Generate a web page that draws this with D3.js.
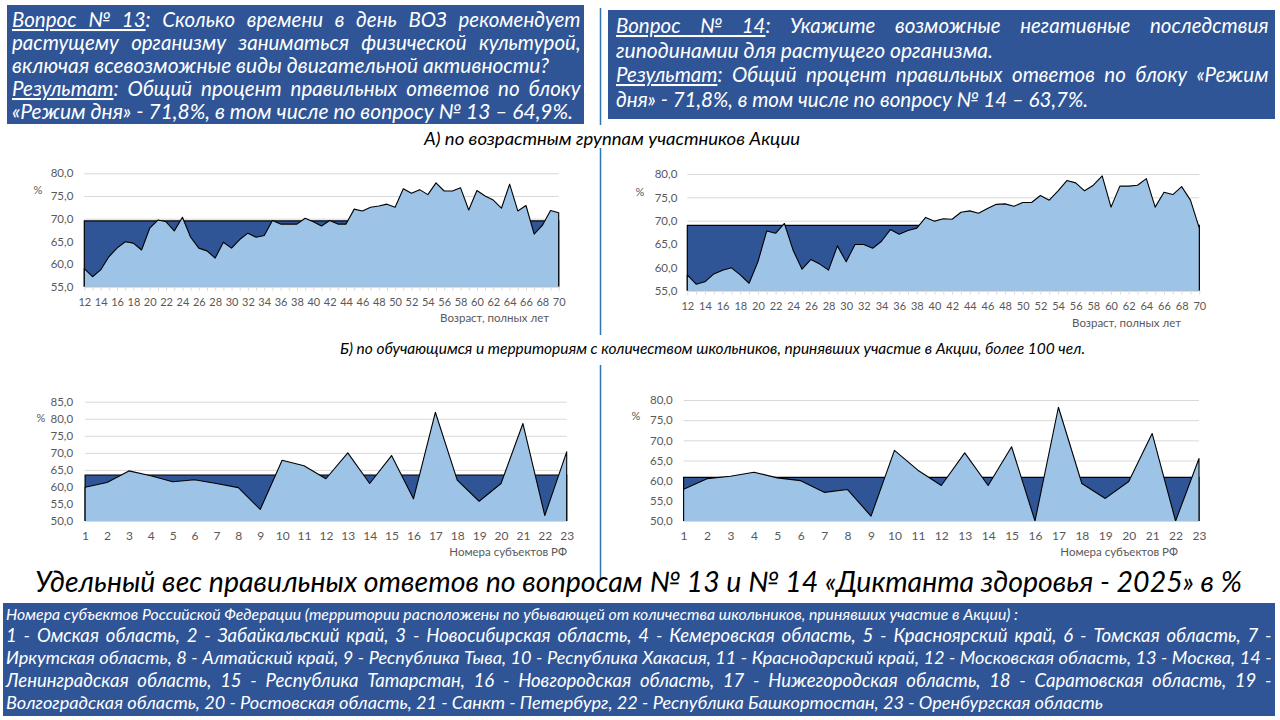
<!DOCTYPE html>
<html>
<head>
<meta charset="utf-8">
<title>Диктант здоровья - 2025: вопросы № 13 и № 14</title>
<script src="https://d3js.org/d3.v7.min.js"></script>
<style>
    body {
        margin: 0;
        background: #fff;
    }
    svg {
        display: block;
        font-family: Lato, "Open Sans", sans-serif;
    }
</style>
</head>
<body>
<svg id="page" width="1280" height="720"></svg>
<script>
    // ---- data ----
    const ages = [12, 13, 14, 15, 16, 17, 18, 19, 20, 21, 22, 23, 24, 25, 26, 27, 28, 29, 30, 31,
        32, 33, 34, 35, 36, 37, 38, 39, 40, 41, 42, 43, 44, 45, 46, 47, 48, 49, 50, 51,
        52, 53, 54, 55, 56, 57, 58, 59, 60, 61, 62, 63, 64, 65, 66, 67, 68, 69, 70];
    const ageTickLabels = [12, 14, 16, 18, 20, 22, 24, 26, 28, 30, 32, 34, 36, 38, 40, 42, 44,
        46, 48, 50, 52, 54, 56, 58, 60, 62, 64, 66, 68, 70];

    const q13ByAge = [59.0, 57.2, 58.7, 61.6, 63.5, 64.9, 64.6, 63.1, 67.9, 69.7, 69.3, 67.3, 70.3,
        65.9, 63.5, 62.9, 61.3, 64.8, 63.5, 65.4, 66.8, 65.9, 66.3, 69.6, 68.8, 68.8, 68.8, 70.1,
        69.3, 68.4, 69.6, 68.8, 68.8, 72.1, 71.7, 72.5, 72.8, 73.2, 72.5, 76.6, 75.6, 76.4, 75.3,
        77.9, 76.1, 76.1, 76.8, 71.9, 76.2, 75.0, 74.1, 72.3, 77.6, 71.7, 72.9, 66.6, 68.5, 71.8, 71.3];
    const q14ByAge = [58.4, 56.4, 56.9, 58.6, 59.4, 59.9, 58.4, 56.6, 61.2, 67.8, 67.3, 69.4, 63.6,
        59.6, 61.7, 60.7, 59.4, 64.6, 61.2, 64.9, 64.9, 64.1, 65.6, 68.1, 67.1, 67.9, 68.4, 70.7,
        69.9, 70.4, 70.3, 71.8, 72.1, 71.6, 72.6, 73.5, 73.6, 73.1, 73.9, 73.9, 75.4, 74.4, 76.4,
        78.6, 78.1, 76.4, 77.6, 79.6, 72.9, 77.4, 77.4, 77.6, 79.0, 72.9, 76.1, 75.6, 77.3, 74.4, 68.4];
    const q13AgeLevel = 69.5;
    const q14AgeLevel = 69.0;

    const subjects = [1, 2, 3, 4, 5, 6, 7, 8, 9, 10, 11, 12, 13, 14, 15, 16, 17, 18, 19, 20, 21, 22, 23];
    const q13BySubject = [59.9, 61.3, 64.7, 63.3, 61.5, 62.1, 61.0, 59.8, 53.4, 67.8, 66.2, 62.4,
        70.0, 61.0, 69.2, 56.5, 81.9, 62.0, 55.8, 61.0, 78.6, 51.6, 70.3];
    const q14BySubject = [57.9, 60.5, 61.1, 62.1, 60.7, 60.0, 57.1, 57.8, 51.2, 67.5, 62.6, 58.8,
        66.9, 58.8, 68.4, 50.0, 78.2, 59.3, 55.6, 59.8, 71.7, 50.0, 65.5];
    const q13SubjectLevel = 63.5;
    const q14SubjectLevel = 60.8;

    const yTicksAge = [55, 60, 65, 70, 75, 80];
    const yTicksQ13Subject = [50, 55, 60, 65, 70, 75, 80, 85];
    const yTicksQ14Subject = [50, 55, 60, 65, 70, 75, 80];

    const q13Text = [
        [["Вопрос № 13", true], [": Сколько времени в день ВОЗ рекомендует", false]],
        [["растущему организму заниматься физической культурой,", false]],
        [["включая всевозможные виды двигательной активности?", false]],
        [["Результат", true], [": Общий процент правильных ответов по блоку", false]],
        [["«Режим дня» - 71,8%, в том числе по вопросу № 13 – 64,9%.", false]]
    ];
    const q14Text = [
        [["Вопрос № 14", true], [": Укажите возможные негативные последствия", false]],
        [["гиподинамии для растущего организма.", false]],
        [["Результат", true], [": Общий процент правильных ответов по блоку «Режим", false]],
        [["дня» - 71,8%, в том числе по вопросу № 14 – 63,7%.", false]]
    ];
    const legendText = [
        "Номера субъектов Российской Федерации (территории расположены по убывающей от количества школьников, принявших участие в Акции) :",
        "1 - Омская область, 2 - Забайкальский край, 3 - Новосибирская область, 4 - Кемеровская область, 5 - Красноярский край, 6 - Томская область, 7 -",
        "Иркутская область, 8 - Алтайский край, 9 - Республика Тыва, 10 - Республика Хакасия, 11 - Краснодарский край, 12 - Московская область, 13 - Москва, 14 -",
        "Ленинградская область, 15 - Республика Татарстан, 16 - Новгородская область, 17 - Нижегородская область, 18 - Саратовская область, 19 -",
        "Волгоградская область, 20 - Ростовская область, 21 - Санкт - Петербург, 22 - Республика Башкортостан, 23 - Оренбургская область"
    ];

    const DARK = "#2F5597";
    const LIGHT = "#9DC3E6";
    const svg = d3.select("#page");

    // one line of italic text: too long -> smaller font, justified -> extra word spacing,
    // short plain lines are stretched to the width they take on the slide
    function textLine(g, parts, x0, x1, y, size, fill, justify) {
        const t = g.append("text")
            .attr("x", x0).attr("y", y)
            .attr("fill", fill)
            .style("font-size", size + "px")
            .style("font-style", "italic");
        parts.forEach(p => {
            t.append("tspan").text(p[0])
                .style("text-decoration", p[1] ? "underline" : null);
        });
        const target = x1 - x0;
        let w = t.node().getComputedTextLength();
        if (w > target) {
            t.style("font-size", (size * target / w * 0.995) + "px");
            w = t.node().getComputedTextLength();
        }
        const gaps = (parts.map(p => p[0]).join("").match(/ /g) || []).length;
        if (justify && gaps) {
            t.style("word-spacing", (Math.max(0, target - w - 0.5) / gaps) + "px");
        } else if (w < target) {
            t.attr("textLength", target).attr("lengthAdjust", "spacingAndGlyphs");
        }
    }

    // ---- question boxes ----
    const header = svg.append("g");
    header.append("rect").attr("x", 7).attr("y", 5).attr("width", 577).attr("height", 119).attr("fill", DARK);
    header.append("rect").attr("x", 608).attr("y", 10).attr("width", 667).attr("height", 109).attr("fill", DARK);

    const q13Ends = [581, 581, 549, 581, 573];
    const q13Justify = [true, true, false, true, false];
    q13Text.forEach((parts, i) => textLine(header, parts, 12, q13Ends[i], 27 + i * 23, 20.5, "#fff", q13Justify[i]));

    const q14Ends = [1269, 993, 1269, 1088];
    const q14Justify = [true, false, true, false];
    q14Text.forEach((parts, i) => textLine(header, parts, 616, q14Ends[i], 33 + i * 24.5, 20.5, "#fff", q14Justify[i]));

    // dividers
    [[8, 125], [148, 335], [365, 578]].forEach(s => {
        svg.append("line").attr("x1", 600.5).attr("x2", 600.5).attr("y1", s[0]).attr("y2", s[1])
            .attr("stroke", "#2E75B6").attr("stroke-width", 1.5);
    });

    textLine(svg, [["А) по возрастным группам участников Акции", false]], 424, 800, 145, 17, "#000", false);
    textLine(svg, [["Б) по обучающимся и территориям с количеством школьников,  принявших участие в Акции, более 100 чел.", false]],
        340, 1085, 354, 17, "#000", false);

    // ---- area charts ----
    function drawChart(cfg) {
        const xs = cfg.cats;
        const data = xs.map((k, i) => ({ k: k, v: cfg.values[i] }));
        const base = cfg.yDomain[0];
        const x = d3.scaleLinear().domain([xs[0], xs[xs.length - 1]]).range([cfg.x0, cfg.x1]);
        const y = d3.scaleLinear().domain(cfg.yDomain).range([cfg.yBottom, cfg.yTop]);
        const g = svg.append("g");

        g.append("g")
            .attr("transform", `translate(${cfg.x0},0)`)
            .call(d3.axisLeft(y).tickValues(cfg.yTicks).tickSize(-(cfg.x1 - cfg.x0)).tickFormat(""))
            .call(a => a.select(".domain").remove())
            .selectAll("line").attr("stroke", "#d9d9d9");

        // constant block level behind the series
        const lvl = [{ k: xs[0], v: cfg.level }, { k: xs[xs.length - 1], v: cfg.level }];
        g.append("path").datum(lvl)
            .attr("d", d3.area().x(d => x(d.k)).y0(y(base)).y1(d => y(d.v)))
            .attr("fill", DARK);
        g.append("path").datum([{ k: xs[0], v: base }, ...lvl, { k: xs[xs.length - 1], v: base }])
            .attr("d", d3.line().x(d => x(d.k)).y(d => y(d.v)))
            .attr("fill", "none").attr("stroke", "#000").attr("stroke-width", 1.2);

        g.append("path").datum(data)
            .attr("d", d3.area().x(d => x(d.k)).y0(y(base)).y1(d => y(d.v)))
            .attr("fill", LIGHT);
        g.append("path").datum([{ k: xs[0], v: base }, ...data, { k: xs[xs.length - 1], v: base }])
            .attr("d", d3.line().x(d => x(d.k)).y(d => y(d.v)))
            .attr("fill", "none").attr("stroke", "#000").attr("stroke-width", 1.1)
            .attr("stroke-linejoin", "round");

        if (cfg.minorTicks) {
            g.append("g")
                .attr("transform", `translate(0,${y(base)})`)
                .call(d3.axisBottom(x).tickValues(xs).tickSize(4).tickFormat(""))
                .call(a => a.select(".domain").remove())
                .selectAll("line").attr("stroke", "#d9d9d9");
        }
        const xa = g.append("g")
            .attr("transform", `translate(0,${y(base)})`)
            .call(d3.axisBottom(x).tickValues(cfg.xTicks).tickSize(0).tickPadding(cfg.xPad).tickFormat(d3.format("d")));
        xa.select(".domain").attr("stroke", "#d9d9d9");
        xa.selectAll("text").attr("fill", "#595959").style("font-size", cfg.xFont + "px").style("font-family", "Lato, sans-serif");

        const ya = g.append("g")
            .attr("transform", `translate(${cfg.x0},0)`)
            .call(d3.axisLeft(y).tickValues(cfg.yTicks).tickSize(0).tickPadding(cfg.yPad)
                .tickFormat(d => d3.format(".1f")(d).replace(".", ",")));
        ya.select(".domain").remove();
        ya.selectAll("text").attr("fill", "#595959").style("font-size", "11.5px").style("font-family", "Lato, sans-serif");

        g.append("text").attr("x", cfg.pctX).attr("y", cfg.pctY).attr("text-anchor", "middle")
            .attr("fill", "#595959").style("font-size", "11px").text("%");
        g.append("text").attr("x", cfg.titleX).attr("y", cfg.titleY).attr("text-anchor", "end")
            .attr("fill", "#595959").style("font-size", "11.5px").text(cfg.title);
    }

    drawChart({ cats: ages, values: q13ByAge, level: q13AgeLevel, xTicks: ageTickLabels, yTicks: yTicksAge,
        yDomain: [55, 80], x0: 84.3, x1: 558.7, yTop: 173.3, yBottom: 286.7, xPad: 12, yPad: 11, xFont: 11,
        minorTicks: true, pctX: 38, pctY: 194, title: "Возраст, полных лет", titleX: 549, titleY: 322 });
    drawChart({ cats: ages, values: q14ByAge, level: q14AgeLevel, xTicks: ageTickLabels, yTicks: yTicksAge,
        yDomain: [55, 80], x0: 687.3, x1: 1199.3, yTop: 174, yBottom: 290.7, xPad: 12, yPad: 10, xFont: 11,
        minorTicks: true, pctX: 640, pctY: 196, title: "Возраст, полных лет", titleX: 1181, titleY: 327 });
    drawChart({ cats: subjects, values: q13BySubject, level: q13SubjectLevel, xTicks: subjects, yTicks: yTicksQ13Subject,
        yDomain: [50, 85], x0: 85.1, x1: 566.7, yTop: 401.7, yBottom: 521, xPad: 10, yPad: 12, xFont: 12,
        minorTicks: false, pctX: 41, pctY: 422, title: "Номера субъектов  РФ", titleX: 567, titleY: 556 });
    drawChart({ cats: subjects, values: q14BySubject, level: q14SubjectLevel, xTicks: subjects, yTicks: yTicksQ14Subject,
        yDomain: [50, 80], x0: 683.6, x1: 1199, yTop: 400, yBottom: 521, xPad: 10, yPad: 11, xFont: 12,
        minorTicks: false, pctX: 636, pctY: 420, title: "Номера субъектов  РФ", titleX: 1178, titleY: 556 });

    // ---- title and legend ----
    textLine(svg, [["Удельный вес правильных ответов по вопросам № 13 и № 14 «Диктанта здоровья - 2025» в %", false]],
        35, 1242, 592, 29, "#000", false);

    const legendBox = svg.append("g");
    legendBox.append("rect").attr("x", 3).attr("y", 603).attr("width", 1272).attr("height", 113).attr("fill", DARK);
    const legendEnds = [1018, 1272, 1272, 1272, 1103];
    const legendJustify = [false, true, true, true, false];
    legendText.forEach((s, i) => textLine(legendBox, [[s, false]], 6, legendEnds[i], 620 + i * 22.2, 18.5, "#fff", legendJustify[i]));
</script>
</body>
</html>
